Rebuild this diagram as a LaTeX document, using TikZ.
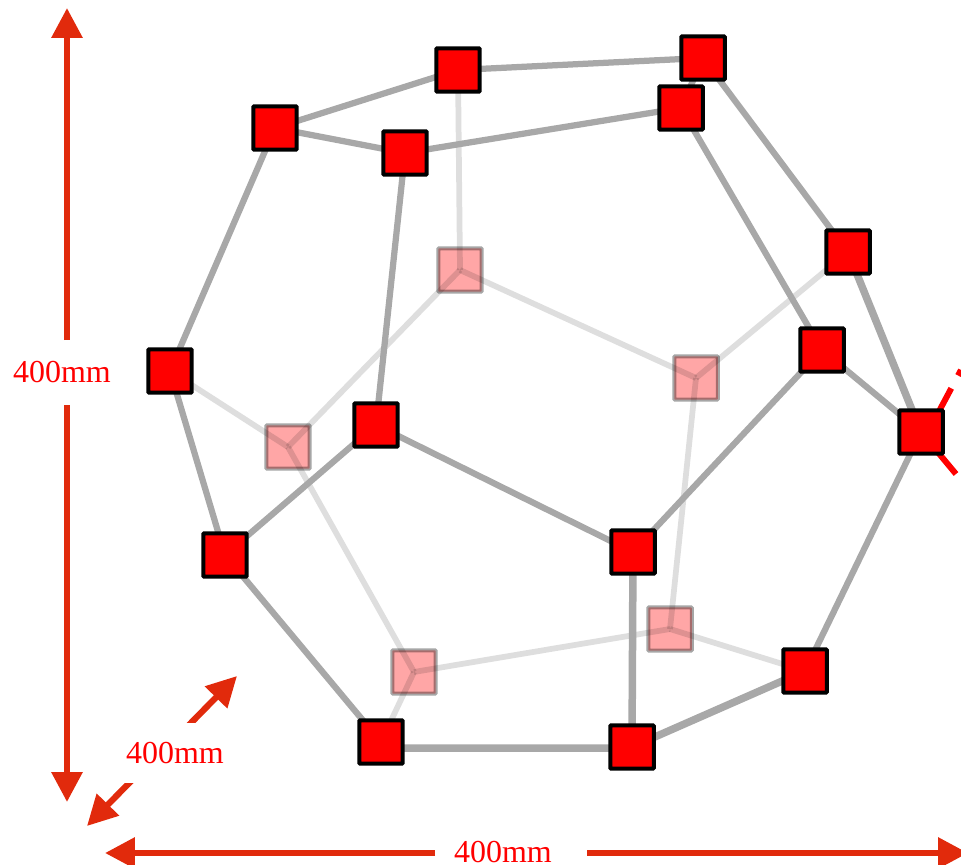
\documentclass[tikz,border=0pt]{standalone}
\usepackage{fontspec}
\setmainfont{Liberation Serif}
\usetikzlibrary{arrows.meta}
\definecolor{dimred}{HTML}{E12A0C}
\definecolor{edgegray}{HTML}{A8A8A8}
\pgfdeclarelayer{back}
\pgfdeclarelayer{edges}
\pgfsetlayers{back,edges,main}
\tikzset{
	front/.style={draw=black, fill=red, line width=0.08cm, minimum size=0.87cm, inner sep=0pt, rounded corners=0.5pt},
	hidden/.style={draw=black, fill=red, opacity=0.35, line width=0.08cm, minimum size=0.87cm, inner sep=0pt, rounded corners=0.5pt},
	frontedge/.style={edgegray, line width=0.125cm},
	thickedge/.style={edgegray, line width=0.15cm},
	backedge/.style={black, opacity=0.13, line width=0.115cm},
	dimarrow/.style={dimred, line width=0.125cm, -{Triangle[length=0.6cm, width=0.6cm]}},
	dimlabel/.style={text=red, font=\fontsize{18.2}{20}\selectfont, inner sep=0pt},
}
\begin{document}
\begin{tikzpicture}[x=0.02cm, y=-0.02cm]
	\useasboundingbox (0,0) rectangle (961,865);
	
	% front vertices
	\node[front] (a) at (275,128) {};
	\node[front] (b) at (458,70) {};
	\node[front] (c) at (703,58) {};
	\node[front] (d) at (681,108) {};
	\node[front] (e) at (405,153) {};
	\node[front] (f) at (848,252) {};
	\node[front] (g) at (822,350) {};
	\node[front] (h) at (921,432) {};
	\node[front] (i) at (170,371) {};
	\node[front] (j) at (376,425) {};
	\node[front] (k) at (225,555) {};
	\node[front] (l) at (633,552) {};
	\node[front] (m) at (805,671) {};
	\node[front] (n) at (381,742) {};
	\node[front] (o) at (632,747) {};
	
	% front edges
	\begin{pgfonlayer}{edges}
		\draw[frontedge] (a.center) -- (b.center);
		\draw[frontedge] (a.center) -- (e.center);
		\draw[frontedge] (b.center) -- (c.center);
		\draw[frontedge] (c.center) -- (d.center);
		\draw[frontedge] (e.center) -- (d.center);
		\draw[frontedge] (c.center) -- (f.center);
		\draw[frontedge] (d.center) -- (g.center);
		\draw[thickedge] (f.center) -- (h.center);
		\draw[frontedge] (g.center) -- (h.center);
		\draw[frontedge] (h.center) -- (m.center);
		\draw[thickedge] (m.center) -- (o.center);
		\draw[thickedge] ([yshift=-0.12cm]n.center) -- ([yshift=-0.02cm]o.center);
		\draw[frontedge] (n.center) -- (k.center);
		\draw[frontedge] (k.center) -- (i.center);
		\draw[frontedge] (i.center) -- (a.center);
		\draw[frontedge] (e.center) -- (j.center);
		\draw[frontedge] (j.center) -- (k.center);
		\draw[frontedge] (j.center) -- (l.center);
		\draw[frontedge] (l.center) -- (g.center);
		\draw[thickedge] (l.center) -- (o.center);
	\end{pgfonlayer}
	
	% hidden vertices and edges
	\begin{pgfonlayer}{back}
		\node[hidden] (p) at (460,270) {};
		\node[hidden] (q) at (696,378) {};
		\node[hidden] (r) at (288,447) {};
		\node[hidden] (s) at (670,629) {};
		\node[hidden] (t) at (414,672) {};
		\draw[backedge] (b.center) -- (p.center);
		\draw[backedge] (p.center) -- (q.center);
		\draw[backedge] (p.center) -- (r.center);
		\draw[backedge] (q.center) -- (f.center);
		\draw[backedge] (q.center) -- (s.center);
		\draw[backedge] (r.center) -- (i.center);
		\draw[backedge] (r.center) -- (t.center);
		\draw[backedge] (s.center) -- (t.center);
		\draw[backedge] (s.center) -- (m.center);
		\draw[backedge] (t.center) -- (n.center);
	\end{pgfonlayer}
	
	% red dashes behind the right vertex
	\coordinate (upEnd) at (961,370);
	\coordinate (downEnd) at (956,474);
	\begin{pgfonlayer}{back}
		\draw[red, line width=0.12cm, dash pattern=on 0.99cm off 0.29cm] ([xshift=0.14cm]h.center) -- (upEnd);
		\draw[red, line width=0.12cm] (h.center) -- (downEnd);
	\end{pgfonlayer}
	
	% dimensions
	\coordinate (heightTop) at (67,340);
	\coordinate (heightBottom) at (67,405);
	\coordinate (depthTop) at (187,727);
	\coordinate (depthBottom) at (135,777);
	\coordinate (widthLeft) at (435,853);
	\coordinate (widthRight) at (587,853);
	\coordinate (tipTop) at (67,8);
	\coordinate (tipBottom) at (67,802);
	\coordinate (tipUp) at (237,676);
	\coordinate (tipDown) at (87,826);
	\coordinate (tipLeft) at (105,853);
	\coordinate (tipRight) at (968,853);
	
	\draw[dimarrow] (heightTop) -- (tipTop);
	\draw[dimarrow] (heightBottom) -- (tipBottom);
	\draw[dimarrow] (depthTop) -- (tipUp);
	\draw[dimarrow] (depthBottom) -- (tipDown);
	\draw[dimarrow] (widthLeft) -- (tipLeft);
	\draw[dimarrow] (widthRight) -- (tipRight);
	
	\node[dimlabel] (heightLabel) at (62,372) {400mm};
	\node[dimlabel, fill=white, minimum width=2.4cm, minimum height=1.2cm] (depthLabel) at (175,753) {400mm};
	\node[dimlabel] (widthLabel) at (503,852) {400mm};
\end{tikzpicture}
\end{document}
